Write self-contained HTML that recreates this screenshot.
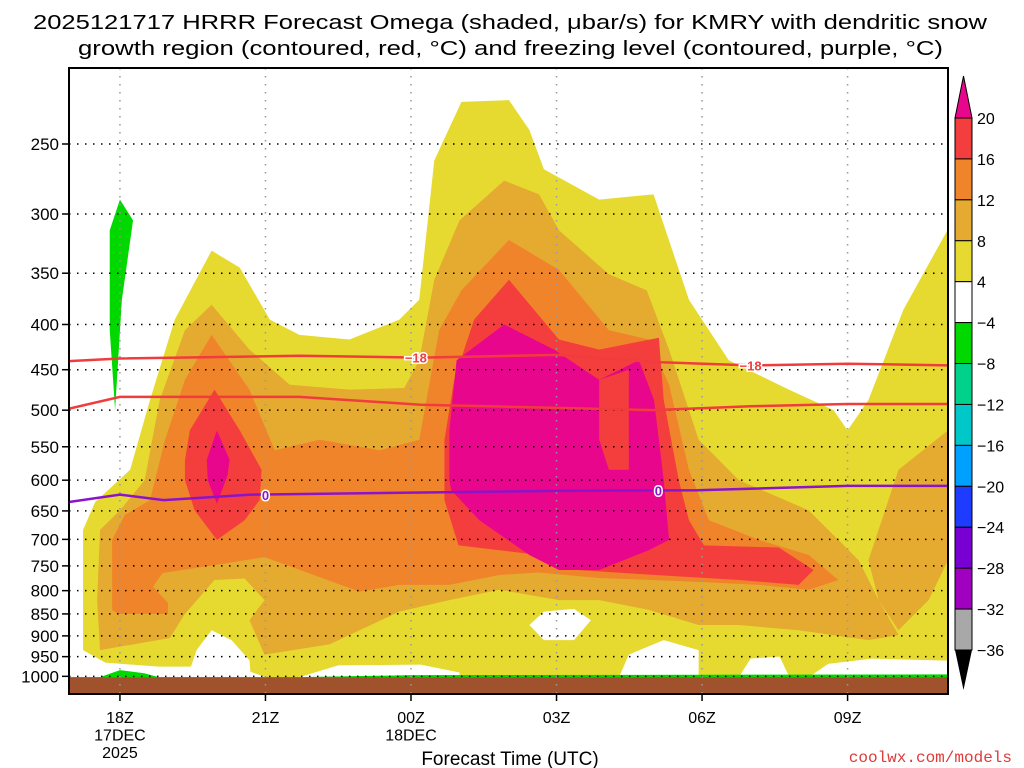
<!DOCTYPE html>
<html><head><meta charset="utf-8"><style>
html,body{margin:0;padding:0;background:#fff;}
svg{display:block;font-family:"Liberation Sans",sans-serif;}
</style></head><body>
<svg id="chart" width="1024" height="768" xmlns="http://www.w3.org/2000/svg">
<text x="33" y="29" font-size="20" textLength="954" lengthAdjust="spacingAndGlyphs">2025121717 HRRR Forecast Omega (shaded, μbar/s) for KMRY with dendritic snow</text>
<text x="78" y="55" font-size="20" textLength="865" lengthAdjust="spacingAndGlyphs">growth region (contoured, red, °C) and freezing level (contoured, purple, °C)</text>
<g id="plot"></g>
<g id="axes"></g>
<g id="cbar"></g>
<text x="510" y="765" font-size="19" text-anchor="middle">Forecast Time (UTC)</text>
<text x="1012" y="762" font-size="16" text-anchor="end" fill="#e03a3a" font-family="Liberation Mono, monospace">coolwx.com/models</text>
</svg>
<script>
// Axis data
const pTicks = [250,300,350,400,450,500,550,600,650,700,750,800,850,900,950,1000];
const xTickHours = [0,3,6,9,12,15];
const xTickLabels = ["18Z","21Z","00Z","03Z","06Z","09Z"];
const xTickSub1 = ["17DEC","","18DEC","","",""];
const xTickSub2 = ["2025","","","","",""];
// Colorbar data
const cbarLabels = ["20","16","12","8","4","−4","−8","−12","−16","−20","−24","−28","−32","−36"];
const cbarColors = ["#f43e3e","#f0842a","#e5aa30","#e6da30","#ffffff","#00d800","#00d28c","#00c8c8","#00a0ff","#1e3cff","#7800d2","#a000c0","#a8a8a8"];
// Filled omega regions [hour since 18Z, hPa]
const yellowRegion = [[-0.76,934],[-0.76,683],[-0.51,635],[0.21,584],[0.62,487],[1.13,395],[1.89,330],[2.47,345],[3.09,395],[3.70,411],[4.73,416],[5.76,395],[6.17,375],[6.48,261],[7.04,224],[8.02,223],[8.44,241],[8.74,267],[9.88,289],[11.0,285],[11.73,375],[12.55,439],[13.79,474],[14.71,500],[15.0,527],[15.43,487],[16.15,385],[17.07,312],[17.07,1002],[3.0,1002],[2.6,984],[1.5,975],[0.8,975],[-0.3,965]];
const whiteHoles = [
 [[1.44,984],[1.58,934],[1.89,887],[2.30,910],[2.67,959],[2.7,1002],[1.4,1002]],
 [[8.44,875],[8.74,845],[9.36,839],[9.71,864],[9.36,910],[8.74,910]],
 [[10.29,1002],[10.49,945],[11.21,910],[11.93,934],[11.93,1002]],
 [[12.76,1002],[13.0,955],[13.6,950],[13.8,1002]],
 [[14.2,1002],[14.6,968],[15.5,955],[17.07,960],[17.07,1002]],
 [[3.7,1002],[4.5,972],[6.2,970],[7.0,990],[7.0,1002]]
];
const lightOrangeRegions = [
 [[-0.41,934],[-0.47,820],[-0.41,683],[0,649],[0.51,600],[0.82,487],[1.34,406],[1.89,380],[2.67,427],[3.5,468],[4.73,474],[5.86,472],[6.17,439],[6.48,356],[7.0,305],[7.92,275],[8.64,285],[9.05,313],[10.08,351],[10.86,366],[11.32,427],[11.93,540],[12.76,600],[14.2,649],[15.23,739],[15.64,820],[16.05,898],[15.43,910],[13.99,887],[12.76,875],[11.93,875],[10.9,841],[9.88,820],[9.05,820],[7.82,798],[6.79,820],[5.76,845],[4.32,920],[2.98,945],[2.67,864],[2.98,820],[2.57,775],[1.95,778],[1.34,850],[1.03,905]],
 [[17.07,527],[17.07,739],[16.67,820],[16.05,887],[15.64,820],[15.43,739],[16.05,584]]
];
const darkOrangeRegion = [[-0.16,841],[-0.16,701],[0.1,657],[0.62,632],[0.93,540],[1.34,462],[1.89,411],[2.67,474],[3.19,555],[4.12,540],[5.35,555],[6.17,540],[6.58,406],[7.04,366],[8.02,321],[9.05,347],[10.08,406],[10.9,416],[11.32,468],[11.73,584],[12.14,666],[13.17,701],[14.2,729],[14.81,778],[14.2,798],[13.17,788],[11.93,782],[9.88,774],[8.64,763],[7.82,768],[6.79,788],[5.76,788],[4.94,802],[2.98,733],[2.2,745],[0.88,764],[0.68,792],[0.99,826],[0.99,850],[-0.04,850]];
const redRegions = [
 [[1.34,600],[1.34,570],[1.44,527],[1.95,474],[2.47,527],[2.92,584],[2.88,632],[2.57,666],[2.0,701],[1.54,649]],
 [[6.69,632],[6.69,540],[6.89,462],[7.3,395],[8.02,356],[8.64,391],[9.05,416],[9.88,427],[11.11,414],[11.21,487],[11.52,600],[11.73,666],[12.04,711],[13.58,715],[14.3,758],[13.99,788],[12.76,778],[10.7,766],[9.05,756],[8.64,729],[6.98,711]]
];
const magentaRegions = [
 [[1.79,569],[2.0,527],[2.26,569],[2.22,592],[2.0,638],[1.81,600]],
 [[6.79,600],[6.79,527],[6.94,439],[7.92,400],[8.95,427],[9.88,462],[10.7,439],[11.01,487],[11.11,540],[11.21,600],[11.32,701],[10.9,720],[9.88,758],[9.05,758],[8.44,729],[7.41,666],[6.83,616]]
];
const redNotch = [[9.88,462],[10.49,450],[10.49,584],[10.08,584],[9.88,540]];
const greenRegions = [
 [[-0.21,313],[0,289],[0.27,305],[0.04,375],[-0.1,500],[-0.21,406]],
 [[-0.41,1002],[0,984],[0.5,992],[0.8,1002]],
 [[3.7,1002],[6,997],[17.07,995],[17.07,1002]]
];
// Contour lines
const redLineHours = [-1.05,0,3.7,6.2,9,11,13,15,17.07];
const dendriticTop = [440,437,434,436,433,441,445,443,445];
const dendriticBottom = [498,483,483,493,497,500,495,492,492];
const frzHours = [-1.05,0,0.9,2.7,5.8,9,11.9,15,17.07];
const freezingLevel = [635,623,632,623,620,617,616,609,609];
const lineLabels = [["−18",6.1,436,"#f03c3c"],["−18",13.0,445,"#f03c3c"],["0",3.0,624,"#8c14c8"],["0",11.1,616,"#8c14c8"]];

const L=69,R=948,T=68,B=694;
const hMin=-1.05,hMax=17.07;
const X=h=>L+(h-hMin)/(hMax-hMin)*(R-L);
const Y=p=>144+384*Math.log(p/250);
const NS="http://www.w3.org/2000/svg";
function mk(tag,parent){const e=document.createElementNS(NS,tag);parent.appendChild(e);return e;}
const plot=document.getElementById('plot');
const axes=document.getElementById('axes');
const cbar=document.getElementById('cbar');

const clip=mk('clipPath',plot);clip.setAttribute('id','pc');
const cr=mk('rect',clip);cr.setAttribute('x',L);cr.setAttribute('y',T);cr.setAttribute('width',R-L);cr.setAttribute('height',B-T);
const g=mk('g',plot);g.setAttribute('clip-path','url(#pc)');

function poly(pts,fill,name){
  const e=mk('polygon',g);
  e.setAttribute('points',pts.map(d=>X(d[0])+','+Y(d[1])).join(' '));
  e.setAttribute('fill',fill);
  
  
}
poly(yellowRegion,"#e6da30","omega-4-8-region");
whiteHoles.forEach(h=>poly(h,"#ffffff","omega-neutral-region"));
lightOrangeRegions.forEach(r=>poly(r,"#e5aa30","omega-8-12-region"));
poly(darkOrangeRegion,"#f0842a","omega-12-16-region");
redRegions.forEach(r=>poly(r,"#f43e3e","omega-16-20-region"));
magentaRegions.forEach(r=>poly(r,"#e8068c","omega-20-plus-region"));
poly(redNotch,"#f43e3e","omega-16-20-notch");
greenRegions.forEach(r=>poly(r,"#00d800","omega-negative-region"));

const gr=mk('rect',g);gr.setAttribute('x',L);gr.setAttribute('y',Y(1002));gr.setAttribute('width',R-L);gr.setAttribute('height',B-Y(1002));gr.setAttribute('fill','#a0522d');



pTicks.forEach(p=>{
  const l=mk('line',g);l.setAttribute('x1',L);l.setAttribute('x2',R);l.setAttribute('y1',Y(p));l.setAttribute('y2',Y(p));
  l.setAttribute('stroke','#000');l.setAttribute('stroke-width','1.5');l.setAttribute('stroke-dasharray','1.5 6.5');
  
  
});
xTickHours.forEach(h=>{
  const l=mk('line',g);l.setAttribute('x1',X(h));l.setAttribute('x2',X(h));l.setAttribute('y1',T);l.setAttribute('y2',B);
  l.setAttribute('stroke','#999');l.setAttribute('stroke-width','1.5');l.setAttribute('stroke-dasharray','1.5 6.5');
  
  
});

function line(hs,ps,color,name){
  const e=mk('polyline',g);
  e.setAttribute('points',hs.map((h,i)=>X(h)+','+Y(ps[i])).join(' '));
  e.setAttribute('fill','none');e.setAttribute('stroke',color);e.setAttribute('stroke-width','2.5');
  
  
}
line(redLineHours,dendriticTop,"#f03c3c","dendritic-top-line");
line(redLineHours,dendriticBottom,"#f03c3c","dendritic-bottom-line");
line(frzHours,freezingLevel,"#8c14c8","freezing-level-line");
lineLabels.forEach(d=>{
  const t=mk('text',g);t.textContent=d[0];t.setAttribute('x',X(d[1]));t.setAttribute('y',Y(d[2])+5);
  t.setAttribute('text-anchor','middle');t.setAttribute('font-size','13');t.setAttribute('font-weight','bold');t.setAttribute('fill',d[3]);
  t.setAttribute('stroke','#fff');t.setAttribute('stroke-width','3');t.setAttribute('paint-order','stroke');
  
  
});

const fr=mk('rect',axes);fr.setAttribute('x',L);fr.setAttribute('y',T);fr.setAttribute('width',R-L);fr.setAttribute('height',B-T);
fr.setAttribute('fill','none');fr.setAttribute('stroke','#000');fr.setAttribute('stroke-width','2');



pTicks.forEach(p=>{
  const l=mk('line',axes);l.setAttribute('x1',L-7);l.setAttribute('x2',L);l.setAttribute('y1',Y(p));l.setAttribute('y2',Y(p));l.setAttribute('stroke','#000');l.setAttribute('stroke-width','1.5');
  
  
  const t=mk('text',axes);t.textContent=p;t.setAttribute('x',L-10);t.setAttribute('y',Y(p)+6);t.setAttribute('text-anchor','end');t.setAttribute('font-size','17');
  
  
});
xTickHours.forEach((h,i)=>{
  const l=mk('line',axes);l.setAttribute('x1',X(h));l.setAttribute('x2',X(h));l.setAttribute('y1',B);l.setAttribute('y2',B+7);l.setAttribute('stroke','#000');l.setAttribute('stroke-width','1.5');
  
  
  [xTickLabels[i],xTickSub1[i],xTickSub2[i]].forEach((s,j)=>{
    if(!s)return;
    const t=mk('text',axes);t.textContent=s;t.setAttribute('x',X(h));t.setAttribute('y',723+j*17.5);t.setAttribute('text-anchor','middle');t.setAttribute('font-size','16');
    
    
  });
});

const cx=955,cw=17,ct=118,cb=650,step=(cb-ct)/cbarColors.length;
const tri=mk('polygon',cbar);tri.setAttribute('points',`${cx},${ct} ${cx+cw},${ct} ${cx+cw/2},76`);tri.setAttribute('fill','#e8068c');tri.setAttribute('stroke','#000');


const tri2=mk('polygon',cbar);tri2.setAttribute('points',`${cx},${cb} ${cx+cw},${cb} ${cx+cw/2},690`);tri2.setAttribute('fill','#000');


cbarColors.forEach((c,i)=>{
  const r=mk('rect',cbar);r.setAttribute('x',cx);r.setAttribute('y',ct+i*step);r.setAttribute('width',cw);r.setAttribute('height',step);r.setAttribute('fill',c);r.setAttribute('stroke','#000');r.setAttribute('stroke-width','1');
  
  
});
cbarLabels.forEach((s,i)=>{
  const t=mk('text',cbar);t.textContent=s;t.setAttribute('x',cx+cw+5);t.setAttribute('y',ct+i*step+6);t.setAttribute('font-size','16');
  
  
});
</script>
</body></html>
